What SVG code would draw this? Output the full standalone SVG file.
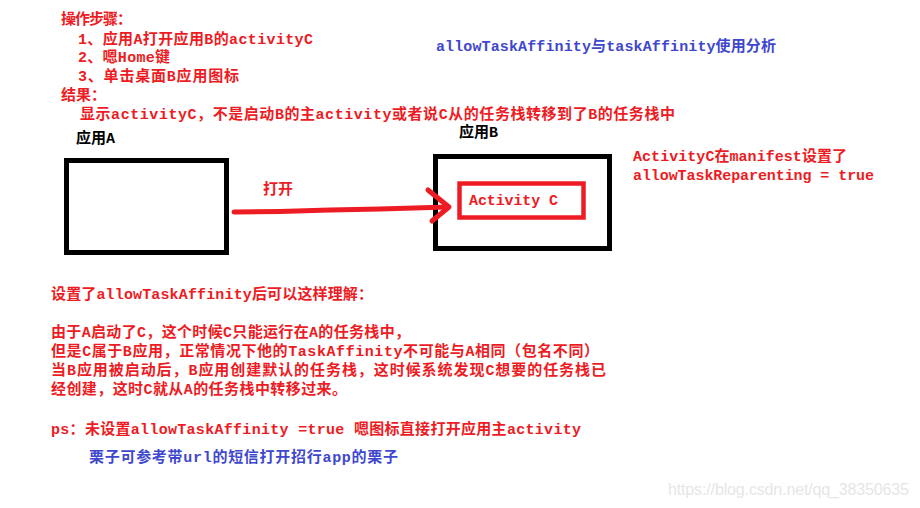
<svg xmlns="http://www.w3.org/2000/svg" width="920" height="508" viewBox="0 0 920 508">
<style>
.t{font-family:"Liberation Mono","Noto Sans CJK SC",monospace;font-weight:bold;font-size:15px}
.r{fill:#ed1c24}
.b{fill:#3f48cc}
.k{fill:#000}
.box{fill:#fff;stroke:#000;stroke-width:5}
.rbox{fill:#fff;stroke:#ed1c24;stroke-width:4.5}
.ln{fill:none;stroke:#ed1c24;stroke-width:5;stroke-linecap:round;stroke-linejoin:round}
.wm{font-family:"Liberation Sans",Arial,sans-serif;font-size:16px;fill:#e6e6e6}
</style>
<rect width="920" height="508" fill="#fff"/>
<g id="steps">
<text class="t r" x="61" y="24" textLength="71">操作步骤：</text>
<text class="t r" x="78" y="44" textLength="235">1、应用A打开应用B的activityC</text>
<text class="t r" x="78" y="62" textLength="92">2、嗯Home键</text>
<text class="t r" x="78" y="81" textLength="161">3、单击桌面B应用图标</text>
<text class="t r" x="61" y="100">结果：</text>
<text class="t r" x="80" y="119" textLength="595">显示activityC，不是启动B的主activity或者说C从的任务栈转移到了B的任务栈中</text>
</g>
<text class="t b" x="436" y="51" textLength="340">allowTaskAffinity与taskAffinity使用分析</text>
<g id="appA">
<text class="t k" x="76" y="143" textLength="39">应用A</text>
<rect class="box" x="66.5" y="160.5" width="160" height="92"/>
</g>
<g id="appB">
<text class="t k" x="459" y="137" textLength="39">应用B</text>
<rect class="box" x="435.5" y="156.5" width="174" height="92"/>
</g>
<g id="activityC">
<rect class="rbox" x="459.5" y="183.5" width="124" height="34"/>
<text class="t r" x="469" y="205" textLength="89">Activity C</text>
</g>
<g id="connectors">
<path class="ln" d="M234,212 L280,211.5 L330,210 L380,209 L448,207"/>
<path class="ln" d="M428,190 L449,207 L432,221"/>
<text class="t r" x="263" y="194" textLength="30">打开</text>
</g>
<g id="note-right">
<text class="t r" x="633" y="161" textLength="214">ActivityC在manifest设置了</text>
<text class="t r" x="633" y="180" textLength="241">allowTaskReparenting = true</text>
</g>
<g id="explain">
<text class="t r" x="51" y="299" textLength="322">设置了allowTaskAffinity后可以这样理解：</text>
<text class="t r" x="51" y="337" textLength="359">由于A启动了C，这个时候C只能运行在A的任务栈中，</text>
<text class="t r" x="51" y="356" textLength="548">但是C属于B应用，正常情况下他的TaskAffinity不可能与A相同（包名不同）</text>
<text class="t r" x="51" y="375" textLength="555">当B应用被启动后，B应用创建默认的任务栈，这时候系统发现C想要的任务栈已</text>
<text class="t r" x="51" y="394" textLength="296">经创建，这时C就从A的任务栈中转移过来。</text>
<text class="t r" x="51" y="434" textLength="530">ps：未设置allowTaskAffinity =true 嗯图标直接打开应用主activity</text>
<text class="t b" x="89" y="462" textLength="309">栗子可参考带url的短信打开招行app的栗子</text>
</g>
<text class="wm" x="668" y="495" textLength="241">https://blog.csdn.net/qq_38350635</text>
</svg>
